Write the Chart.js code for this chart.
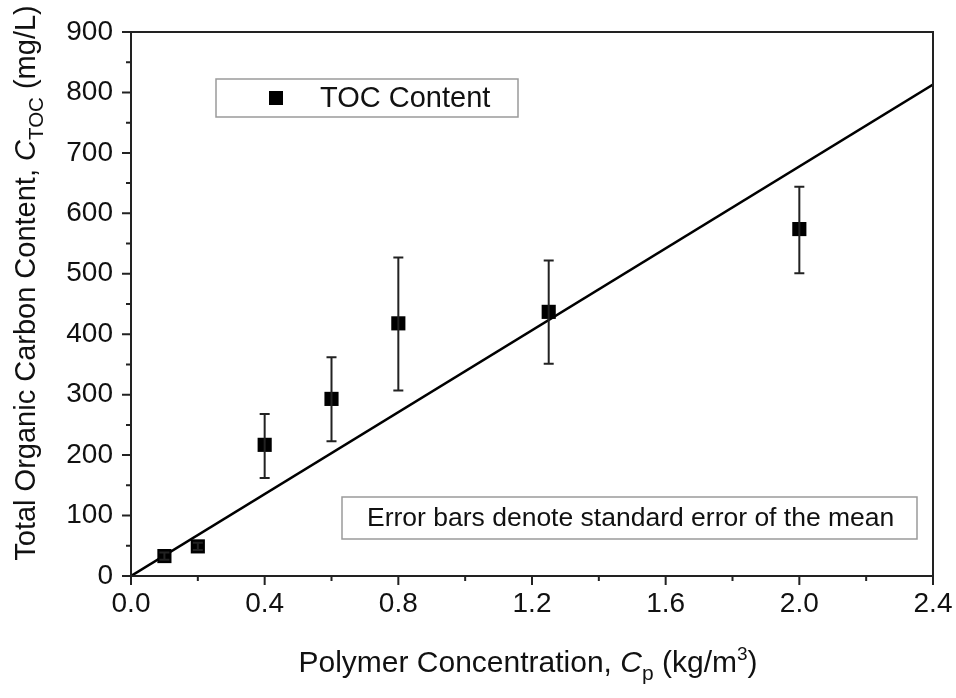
<!DOCTYPE html>
<html>
<head>
<meta charset="utf-8">
<script src="https://cdn.jsdelivr.net/npm/chart.js@4/dist/chart.umd.min.js"></script>
<style>
html,body{margin:0;padding:0;background:#fff;}
#wrap{width:956px;height:698px;}
</style>
</head>
<body>
<div id="wrap"><canvas id="c" width="956" height="698"></canvas></div>
<script>
// ---- data ----
const concentrations = [0.1, 0.2, 0.4, 0.6, 0.8, 1.25, 2.0];
const tocValues      = [33, 49, 217, 293, 418, 437, 574];
const errLower       = [27, 43, 162, 223, 307, 351, 501];
const errUpper       = [39, 55, 268, 362, 527, 522, 644];
const fitX = [0, 2.4];
const fitY = [0, 813];
const xTickLabels = ['0.0', '0.4', '0.8', '1.2', '1.6', '2.0', '2.4'];
const yTickLabels = ['0', '100', '200', '300', '400', '500', '600', '700', '800', '900'];
const legendLabel = 'TOC Content';
const noteText = 'Error bars denote standard error of the mean';

const FONT = '"Liberation Sans", Arial, Helvetica, sans-serif';
const INK = '#111';

const framePlugin = {
  id: 'frame',
  afterDatasetsDraw(chart) {
    const ctx = chart.ctx;
    const xs = chart.scales.x, ys = chart.scales.y;
    ctx.save();
    ctx.strokeStyle = '#222';
    ctx.lineWidth = 2;
    concentrations.forEach((c, i) => {
      const px = xs.getPixelForValue(c);
      const pl = ys.getPixelForValue(errLower[i]);
      const ph = ys.getPixelForValue(errUpper[i]);
      ctx.beginPath();
      ctx.moveTo(px, pl); ctx.lineTo(px, ph);
      ctx.moveTo(px - 5, pl); ctx.lineTo(px + 5, pl);
      ctx.moveTo(px - 5, ph); ctx.lineTo(px + 5, ph);
      ctx.stroke();
    });
    ctx.restore();
  },
  afterDraw(chart) {
    const ctx = chart.ctx;
    const {left, right, top, bottom} = chart.chartArea;
    const xs = chart.scales.x, ys = chart.scales.y;
    ctx.save();
    ctx.strokeStyle = '#222';
    ctx.lineWidth = 2;
    ctx.strokeRect(left, top, right - left, bottom - top);
    ctx.beginPath();
    xs.ticks.forEach(t => {
      const px = xs.getPixelForValue(t.value);
      const major = xTickLabels.includes(t.value.toFixed(1));
      ctx.moveTo(px, bottom); ctx.lineTo(px, bottom + (major ? 9 : 5));
    });
    ys.ticks.forEach(t => {
      const py = ys.getPixelForValue(t.value);
      const major = yTickLabels.includes(String(Math.round(t.value)));
      ctx.moveTo(left, py); ctx.lineTo(left - (major ? 9 : 5), py);
    });
    ctx.stroke();

    // legend box
    ctx.lineWidth = 1.5;
    ctx.strokeStyle = '#9a9a9a';
    ctx.strokeRect(left + 85, top + 47, 302, 38);
    ctx.fillStyle = '#000';
    ctx.fillRect(left + 145 - 7, top + 66 - 7, 14, 14);
    ctx.fillStyle = INK;
    ctx.font = '29px ' + FONT;
    ctx.textBaseline = 'middle';
    ctx.textAlign = 'left';
    ctx.fillText(legendLabel, left + 189, top + 67);

    // note box
    ctx.strokeRect(left + 211, top + 465, 575, 42);
    ctx.font = '26.5px ' + FONT;
    ctx.fillText(noteText, left + 236, top + 487);

    function runs(parts) {
      let w = 0;
      parts.forEach(p => { ctx.font = p.font; p.w = ctx.measureText(p.t).width; w += p.w; });
      return w;
    }
    function drawRuns(parts, x, y) {
      ctx.textBaseline = 'alphabetic';
      ctx.textAlign = 'left';
      parts.forEach(p => { ctx.font = p.font; ctx.fillText(p.t, x, y + (p.dy || 0)); x += p.w; });
    }
    const xParts = [
      {t: 'Polymer Concentration, ', font: '30px ' + FONT},
      {t: 'C', font: 'italic 30px ' + FONT},
      {t: 'p', font: '21px ' + FONT, dy: 8},
      {t: ' (kg/m', font: '30px ' + FONT},
      {t: '3', font: '19px ' + FONT, dy: -12},
      {t: ')', font: '30px ' + FONT}
    ];
    const xw = runs(xParts);
    const xc = (left + right) / 2 - 4;
    drawRuns(xParts, xc - xw / 2, bottom + 96);
    const yParts = [
      {t: 'Total Organic Carbon Content, ', font: '29px ' + FONT},
      {t: 'C', font: 'italic 29px ' + FONT},
      {t: 'TOC', font: '20.5px ' + FONT, dy: 8},
      {t: ' (mg/L)', font: '29px ' + FONT}
    ];
    const yw = runs(yParts);
    ctx.save();
    ctx.translate(35, (top + bottom) / 2 - 21);
    ctx.rotate(-Math.PI / 2);
    drawRuns(yParts, -yw / 2, 0);
    ctx.restore();
    ctx.restore();
  }
};

new Chart(document.getElementById('c'), {
  type: 'scatter',
  data: {
    datasets: [
      {
        type: 'line',
        label: 'fit',
        data: fitX.map((x, i) => ({x, y: fitY[i]})),
        borderColor: '#000',
        borderWidth: 2.5,
        pointRadius: 0,
        fill: false,
        order: 2
      },
      {
        label: legendLabel,
        data: concentrations.map((x, i) => ({x, y: tocValues[i]})),
        pointStyle: 'rect',
        pointRadius: 10,
        pointHoverRadius: 10,
        backgroundColor: '#000',
        borderColor: '#000',
        borderWidth: 0,
        order: 1
      }
    ]
  },
  options: {
    responsive: false,
    devicePixelRatio: 1,
    animation: false,
    events: [],
    layout: {padding: {left: 0, top: 32, right: 23, bottom: 0}},
    plugins: {legend: {display: false}, tooltip: {enabled: false}},
    scales: {
      x: {
        type: 'linear', min: 0, max: 2.4,
        afterFit(s) { s.height = 122; s.paddingRight = 0; s.paddingLeft = 0; },
        grid: {display: false, drawTicks: false},
        border: {display: false},
        ticks: {
          stepSize: 0.2, autoSkip: false, maxRotation: 0, padding: 11,
          color: INK, font: {family: FONT, size: 28},
          callback(v) { const s = Number(v).toFixed(1); return xTickLabels.includes(s) ? s : ''; }
        }
      },
      y: {
        type: 'linear', min: 0, max: 900,
        afterFit(s) { s.width = 131; s.paddingTop = 0; s.paddingBottom = 0; },
        grid: {display: false, drawTicks: false},
        border: {display: false},
        ticks: {
          stepSize: 50, autoSkip: false, padding: 18,
          color: INK, font: {family: FONT, size: 28},
          callback(v) { const s = String(Math.round(v)); return yTickLabels.includes(s) ? s : ''; }
        }
      }
    }
  },
  plugins: [framePlugin]
});
</script>
</body>
</html>
